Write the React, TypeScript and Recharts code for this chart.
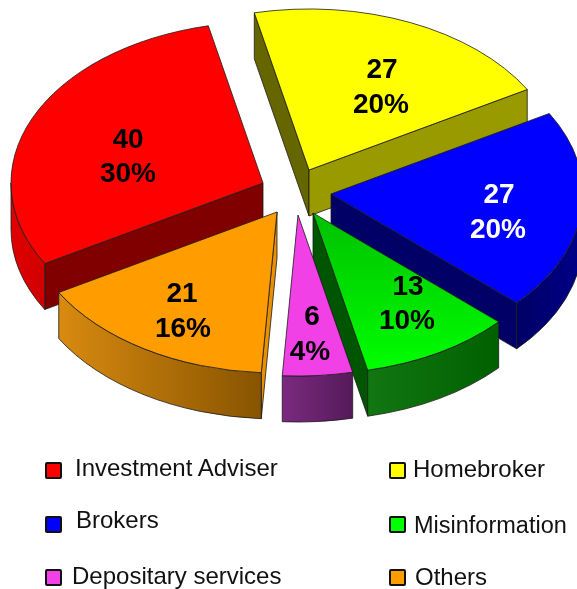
import { PieChart, Pie, Legend } from 'recharts';

const NAMES = ['Investment Adviser', 'Homebroker', 'Brokers', 'Misinformation', 'Depositary services', 'Others'];
const VALUES = [40, 27, 27, 13, 6, 21];
const PERCENTS = ['30%', '20%', '20%', '10%', '4%', '16%'];
const COLORS = ['#ff0000', '#ffff00', '#0000ff', '#00ff00', '#f040e6', '#ff9c00'];

const CENTER_X = 297;
const CENTER_Y = 197;
const RADIUS = 252;
const SQUASH = 0.639;
const DEPTH = 46;

// how far each slice is pulled out of the pie
const EXPLODE = [
  [-34, -14],
  [12, -27],
  [34, -3],
  [16, 16],
  [1, 18],
  [-20, 15],
];
const TOP_FILLS = ['#ff0000', '#ffff00', '#0000ff', 'url(#greenTop)', '#f040e6', '#ff9c00'];
const START_WALLS = ['#800000', '#666600', '#000066', '#005500', '#6a2070', '#e89000'];
const END_WALLS = ['#800000', '#999900', '#000066', '#005500', '#6a2070', '#a06000'];
const OUTER_WALLS = ['url(#redWall)', '#999900', 'url(#blueWall)', 'url(#greenWall)', 'url(#purpleWall)', 'url(#orangeWall)'];
const LABEL_COLORS = ['#000', '#000', '#fff', '#000', '#000', '#000'];
const LABEL_POS = [
  [128, 138, 128, 172],
  [382, 68, 381, 103],
  [499, 193, 498, 228],
  [408, 285, 407, 319],
  [312, 315, 310, 350],
  [182, 292, 183, 327],
];
// mark = top-left of the swatch, text = left edge, baseline and font size
const LEGEND_POS = [
  { mark: [45, 462], text: [75, 476, 24] },
  { mark: [389, 462], text: [413, 477, 24] },
  { mark: [45, 516], text: [76, 528, 24] },
  { mark: [389, 516], text: [414, 533, 23.5] },
  { mark: [45, 569], text: [72, 584, 24] },
  { mark: [389, 569], text: [415, 585, 24] },
];

const chartData = NAMES.map((name, i) => ({ name, value: VALUES[i], fill: COLORS[i], index: i }));

const rad = (deg: number) => (deg * Math.PI) / 180;

// front half of the rim, the only part whose wall can be seen
function frontRange(start: number, end: number): [number, number] | null {
  for (let k = -2; k <= 1; k++) {
    const hi = Math.min(start, 360 * k);
    const lo = Math.max(end, 360 * k - 180);
    if (hi > lo) return [hi, lo];
  }
  return null;
}

const Slice3D = (props: any) => {
  const { cx, cy, outerRadius, startAngle, endAngle } = props;
  const i: number = props.payload?.index ?? props.index ?? 0;
  const ox = cx + EXPLODE[i][0];
  const oy = cy + EXPLODE[i][1];
  const rx = outerRadius;
  const ry = outerRadius * SQUASH;
  const pt = (a: number, d = 0) => `${ox + rx * Math.cos(rad(a))} ${oy - ry * Math.sin(rad(a)) + d}`;
  const arc = (a: number, b: number, sweep: number) =>
    `A ${rx} ${ry} 0 ${Math.abs(a - b) > 180 ? 1 : 0} ${sweep} ${pt(b)}`;
  const radialWall = (a: number) =>
    `M ${ox} ${oy} L ${pt(a)} L ${pt(a, DEPTH)} L ${ox} ${oy + DEPTH} Z`;
  const front = frontRange(startAngle, endAngle);
  const outline = { stroke: '#1a1a1a', strokeWidth: 0.8, strokeLinejoin: 'round' as const };

  let outerPath = '';
  if (front) {
    const [a, b] = front;
    const large = Math.abs(a - b) > 180 ? 1 : 0;
    outerPath = `M ${pt(a)} A ${rx} ${ry} 0 ${large} 1 ${pt(b)} L ${pt(b, DEPTH)} A ${rx} ${ry} 0 ${large} 0 ${pt(a, DEPTH)} Z`;
  }

  return (
    <g>
      {Math.cos(rad(startAngle)) < 0 && <path d={radialWall(startAngle)} fill={START_WALLS[i]} {...outline} />}
      {Math.cos(rad(endAngle)) > 0 && <path d={radialWall(endAngle)} fill={END_WALLS[i]} {...outline} />}
      {front && <path d={outerPath} fill={OUTER_WALLS[i]} {...outline} />}
      <path d={`M ${ox} ${oy} L ${pt(startAngle)} ${arc(startAngle, endAngle, 1)} Z`} fill={TOP_FILLS[i]} {...outline} />
    </g>
  );
};

const renderLabel = (props: any) => {
  const i: number = props.payload?.index ?? props.index ?? 0;
  const [x1, y1, x2, y2] = LABEL_POS[i];
  const common = {
    textAnchor: 'middle' as const,
    dominantBaseline: 'central' as const,
    fontFamily: '"Liberation Sans", Arial, sans-serif',
    fontSize: 28,
    fontWeight: 700,
    fill: LABEL_COLORS[i],
  };
  return (
    <g key={i}>
      <text x={x1} y={y1} {...common}>{VALUES[i]}</text>
      <text x={x2} y={y2} {...common}>{PERCENTS[i]}</text>
    </g>
  );
};

const LegendBlock = () => (
  <div style={{ position: 'relative', width: 577, height: 589 }}>
    {NAMES.map((name, i) => (
      <div key={name}>
        <span
          style={{
            position: 'absolute',
            left: LEGEND_POS[i].mark[0],
            top: LEGEND_POS[i].mark[1],
            width: 13,
            height: 13,
            background: COLORS[i],
            border: '2.5px solid #111',
            borderRadius: 2,
          }}
        />
        <span
          style={{
            position: 'absolute',
            left: LEGEND_POS[i].text[0],
            top: LEGEND_POS[i].text[1] - 19,
            fontFamily: '"Liberation Sans", Arial, sans-serif',
            fontSize: LEGEND_POS[i].text[2],
            lineHeight: '22px',
            color: '#111',
            whiteSpace: 'nowrap',
          }}
        >
          {name}
        </span>
      </div>
    ))}
  </div>
);

export default function App() {
  return (
    <div style={{ position: 'absolute', left: 0, top: 0, width: 577, height: 589, overflow: 'hidden', background: '#fff', filter: 'blur(0.45px)' }}>
      <PieChart width={577} height={589} margin={{ top: 0, right: 0, bottom: 0, left: 0 }}>
        <defs>
          <linearGradient id="redWall" x1="0" y1="0" x2="1" y2="0">
            <stop offset="0" stopColor="#e00000" />
            <stop offset="1" stopColor="#d00000" />
          </linearGradient>
          <linearGradient id="blueWall" x1="0" y1="0" x2="1" y2="0">
            <stop offset="0" stopColor="#000066" />
            <stop offset="1" stopColor="#000088" />
          </linearGradient>
          <linearGradient id="greenWall" x1="0" y1="0" x2="1" y2="0">
            <stop offset="0" stopColor="#117711" />
            <stop offset="1" stopColor="#006000" />
          </linearGradient>
          <linearGradient id="purpleWall" x1="0" y1="0" x2="1" y2="0">
            <stop offset="0" stopColor="#7a2a80" />
            <stop offset="1" stopColor="#561a58" />
          </linearGradient>
          <linearGradient id="orangeWall" x1="0" y1="0" x2="1" y2="0">
            <stop offset="0" stopColor="#d98a10" />
            <stop offset="1" stopColor="#885400" />
          </linearGradient>
          <linearGradient id="greenTop" x1="0" y1="0" x2="0" y2="1">
            <stop offset="0" stopColor="#00c000" />
            <stop offset="1" stopColor="#00ff00" />
          </linearGradient>
        </defs>
        <Pie
          data={chartData}
          dataKey="value"
          nameKey="name"
          cx={CENTER_X}
          cy={CENTER_Y}
          innerRadius={0}
          outerRadius={RADIUS}
          startAngle={-150}
          endAngle={-510}
          shape={Slice3D}
          activeShape={Slice3D}
          inactiveShape={Slice3D}
          label={renderLabel}
          labelLine={false}
          isAnimationActive={false}
        />
        <Legend
          content={<LegendBlock />}
          layout="vertical"
          wrapperStyle={{ position: 'absolute', left: 0, top: 0, width: 577, height: 589, pointerEvents: 'none' }}
        />
      </PieChart>
    </div>
  );
}
